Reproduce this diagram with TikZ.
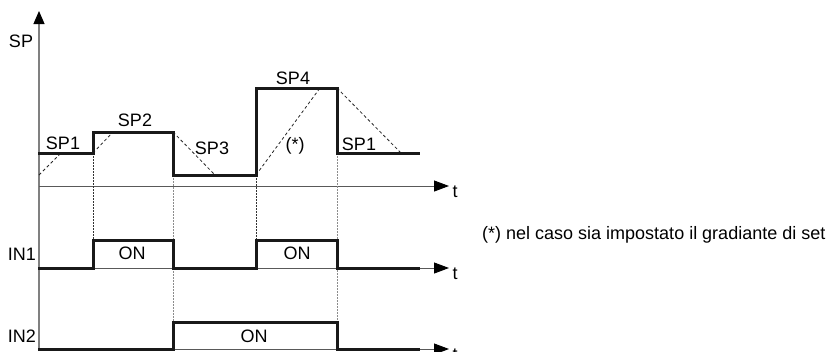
\documentclass[tikz,border=0pt]{standalone}
\usepackage{fontspec}
\setmainfont{Liberation Sans}
\usetikzlibrary{arrows.meta}
\begin{document}
\begin{tikzpicture}[x=1pt,y=-1pt,
  lbl/.style={font=\fontsize{18}{20}\selectfont, inner sep=0pt, anchor=base},
  axisline/.style={line width=1pt, draw=black!50},
  taxis/.style={line width=0.9pt, draw=black!65, -{Triangle[length=15pt,width=11pt,color=black]}},
  vaxis/.style={line width=1.1pt, draw=black!50, -{Triangle[length=13pt,width=11pt,color=black]}},
  sig/.style={line width=3pt, draw=black!90, line join=miter, line cap=rect},
  ramp/.style={line width=0.8pt, draw=black!85, dash pattern=on 3pt off 2.5pt},
  guide/.style={line width=0.8pt, draw=black!80, dash pattern=on 1.5pt off 1.5pt},
  guidegrey/.style={line width=0.8pt, draw=black!45, dash pattern=on 1.5pt off 1.5pt}]
\useasboundingbox (0,0) rectangle (840,351);
% coordinates
\coordinate (o) at (39,351);
\coordinate (otop) at (39,11);
\coordinate (a0) at (39,186);  \coordinate (a1) at (449,186);
\coordinate (b0) at (39,268);  \coordinate (b1) at (449,268);
\coordinate (c0) at (39,349);  \coordinate (c1) at (449,349);
% axes
\draw[vaxis] (o) -- (otop);
\draw[taxis] (a0) -- (a1);
\draw[taxis] (b0) -- (b1);
\draw[taxis] (c0) -- (c1);
% guide lines
\coordinate (g1a) at (93,153);  \coordinate (g1b) at (93,240);
\coordinate (g2a) at (173,175); \coordinate (g2b) at (173,322);
\coordinate (g3a) at (256,175); \coordinate (g3b) at (256,240);
\coordinate (g4a) at (337,153); \coordinate (g4b) at (337,322);
\draw[guide] (g1a) -- (g1b);
\draw[guidegrey] (g2a) -- (g2b);
\draw[guide] (g3a) -- (g3b);
\draw[guidegrey] (g4a) -- (g4b);
% ramps
\coordinate (r1a) at (39,175);  \coordinate (r1b) at (61,153);
\coordinate (r2a) at (93,153);  \coordinate (r2b) at (113,132);
\coordinate (r3a) at (173,132); \coordinate (r3b) at (215,175);
\coordinate (r4a) at (256,175); \coordinate (r4b) at (320,88);
\coordinate (r5a) at (337,88);  \coordinate (r5b) at (401,153);
\draw[ramp] (r1a) -- (r1b);
\draw[ramp] (r2a) -- (r2b);
\draw[ramp] (r3a) -- (r3b);
\draw[ramp] (r4a) -- (r4b);
\draw[ramp] (r5a) -- (r5b);
% signals
\draw[sig] (39,153) -- (93,153) -- (93,132) -- (173,132) -- (173,175) -- (256,175) -- (256,88) -- (337,88) -- (337,153) -- (418,153);
\draw[sig] (39,268) -- (93,268) -- (93,240) -- (173,240) -- (173,268) -- (256,268) -- (256,240) -- (337,240) -- (337,268) -- (418,268);
\draw[sig] (39,349) -- (173,349) -- (173,322) -- (337,322) -- (337,349) -- (418,349);
% labels
\node[lbl] (sp) at (21,47) {SP};
\node[lbl] (in1) at (22,260) {IN1};
\node[lbl] (in2) at (22,342) {IN2};
\node[lbl] (t1) at (455,197) {t};
\node[lbl] (t2) at (455,279) {t};
\node[lbl] (t3) at (455,360) {t};
\node[lbl] (sp1) at (63,149) {SP1};
\node[lbl] (sp2) at (135,126) {SP2};
\node[lbl] (sp3) at (212,154) {SP3};
\node[lbl] (sp4) at (293,84) {SP4};
\node[lbl] (star) at (295,150) {(*)};
\node[lbl] (sp1b) at (359,150) {SP1};
\node[lbl] (on1) at (132,259) {ON};
\node[lbl] (on2) at (297,259) {ON};
\node[lbl] (on3) at (254,342) {ON};
\node[lbl, anchor=base west] (note) at (482,239.5) {(*) nel caso sia impostato il gradiante di set};
\end{tikzpicture}
\end{document}
